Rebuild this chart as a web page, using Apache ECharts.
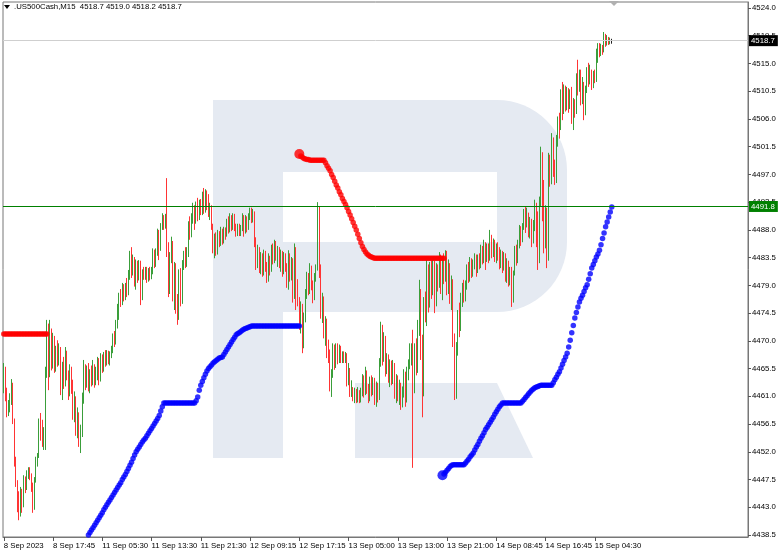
<!DOCTYPE html>
<html><head><meta charset="utf-8">
<script src="https://cdn.jsdelivr.net/npm/echarts@6/dist/echarts.min.js"></script>
<style>html,body{margin:0;padding:0;background:#fff}#c{width:782px;height:554px}</style>
</head><body><div id="c"></div>
<script>
const titleText = '.US500Cash,M15  4518.7 4519.0 4518.2 4518.7';
const xTickLabels = ['8 Sep 2023','8 Sep 17:45','11 Sep 05:30','11 Sep 13:30','11 Sep 21:30','12 Sep 09:15','12 Sep 17:15','13 Sep 05:00','13 Sep 13:00','13 Sep 21:00','14 Sep 08:45','14 Sep 16:45','15 Sep 04:30'];
const barsPerLabel = 32;
const totalSlots = 484;
const yTicks = [4438.5,4443.0,4447.5,4452.0,4456.5,4461.0,4465.5,4470.0,4474.5,4479.0,4483.5,4488.0,4492.5,4497.0,4501.5,4506.0,4510.5,4515.0,4519.5,4524.0];
const lastPrice = 4518.7;
const levelPrice = 4491.8;
// [open, close, low, high]
const candles = [
[4463.0,4465.2,4461.5,4466.4],[4465.2,4461.0,4460.2,4465.8],[4461.0,4458.6,4457.6,4462.4],[4458.6,4459.8,4457.8,4460.4],[4459.8,4460.9,4458.4,4461.5],[4460.9,4462.8,4459.6,4463.8],[4462.8,4457.0,4456.5,4463.2],[4457.0,4450.4,4449.6,4457.4],
[4450.4,4447.2,4446.3,4451.2],[4447.2,4443.0,4442.2,4447.4],[4443.0,4441.8,4440.9,4445.6],[4441.8,4445.6,4441.5,4446.3],[4445.6,4443.2,4442.1,4446.0],[4443.2,4447.5,4443.0,4448.2],[4447.5,4446.0,4445.3,4448.0],[4446.0,4448.6,4445.8,4449.0],
[4448.6,4449.2,4447.6,4449.5],[4449.2,4447.8,4447.4,4449.5],[4447.8,4446.2,4445.5,4448.5],[4446.2,4443.0,4442.1,4447.0],[4443.0,4447.4,4442.6,4447.9],[4447.4,4450.6,4447.0,4451.2],[4450.6,4451.4,4449.6,4451.8],[4451.4,4456.6,4451.0,4457.4],
[4456.6,4455.2,4453.8,4458.3],[4455.2,4453.4,4452.8,4457.2],[4453.4,4454.6,4452.3,4456.0],[4454.6,4465.0,4452.3,4465.8],[4465.0,4472.2,4464.0,4473.4],[4472.2,4464.2,4462.0,4472.8],[4464.2,4471.5,4464.1,4473.4],[4471.5,4466.0,4465.2,4472.0],
[4466.0,4470.2,4465.5,4471.3],[4470.2,4465.6,4464.8,4470.8],[4465.6,4468.4,4465.0,4469.2],[4468.4,4466.6,4465.8,4470.1],[4466.6,4468.8,4466.0,4469.6],[4468.8,4462.4,4461.2,4469.0],[4462.4,4465.8,4460.4,4466.6],[4465.8,4463.0,4462.2,4467.4],
[4463.0,4467.8,4462.6,4469.0],[4467.8,4464.4,4463.6,4468.4],[4464.4,4461.8,4460.4,4465.2],[4461.8,4465.0,4461.0,4466.2],[4465.0,4462.6,4461.4,4465.8],[4462.6,4458.0,4457.2,4463.7],[4458.0,4460.6,4456.8,4461.8],[4460.6,4455.4,4454.6,4461.0],
[4455.4,4457.8,4454.2,4459.2],[4457.8,4453.6,4452.8,4458.4],[4453.6,4455.0,4451.8,4456.4],[4455.0,4460.8,4454.4,4461.6],[4460.8,4465.6,4459.8,4466.9],[4465.6,4463.0,4462.0,4466.2],[4463.0,4465.2,4462.4,4466.0],[4465.2,4462.8,4461.8,4466.4],
[4462.8,4464.6,4461.5,4465.4],[4464.6,4463.4,4462.6,4466.0],[4463.4,4465.8,4462.8,4466.9],[4465.8,4463.6,4462.4,4466.2],[4463.6,4465.0,4462.8,4465.8],[4465.0,4466.8,4463.6,4467.4],[4466.8,4464.0,4462.8,4467.2],[4464.0,4467.2,4463.4,4468.0],
[4467.2,4465.6,4464.8,4467.8],[4465.6,4467.6,4465.0,4468.2],[4467.6,4466.4,4465.8,4468.5],[4466.4,4468.0,4466.0,4468.5],[4468.0,4466.8,4466.2,4468.4],[4466.8,4467.8,4466.0,4468.3],[4467.8,4468.4,4467.2,4469.2],[4468.4,4470.6,4468.0,4471.2],
[4470.6,4469.8,4469.0,4471.6],[4469.8,4472.6,4469.4,4473.4],[4472.6,4474.8,4472.0,4476.0],[4474.8,4477.0,4473.4,4477.8],[4477.0,4476.0,4475.5,4478.4],[4476.0,4478.6,4475.8,4479.4],[4478.6,4477.2,4476.4,4479.2],[4477.2,4478.8,4476.6,4479.4],
[4478.8,4477.8,4477.1,4480.2],[4477.8,4480.6,4477.4,4481.5],[4480.6,4483.8,4479.9,4484.6],[4483.8,4481.4,4480.2,4485.2],[4481.4,4483.0,4480.6,4484.0],[4483.0,4479.6,4478.8,4483.6],[4479.6,4482.4,4478.3,4483.2],[4482.4,4480.2,4479.4,4483.0],
[4480.2,4482.6,4479.8,4483.1],[4482.6,4477.0,4475.8,4483.0],[4477.0,4481.0,4476.6,4481.6],[4481.0,4480.2,4479.9,4482.0],[4480.2,4481.6,4479.9,4482.0],[4481.6,4480.0,4479.4,4482.0],[4480.0,4481.4,4479.6,4481.8],[4481.4,4480.4,4479.8,4482.0],
[4480.4,4481.8,4480.0,4482.0],[4481.8,4484.2,4480.8,4485.0],[4484.2,4482.6,4481.8,4484.8],[4482.6,4484.4,4482.0,4485.0],[4484.4,4487.6,4483.8,4488.2],[4487.6,4485.0,4483.1,4488.0],[4485.0,4488.4,4484.6,4489.1],[4488.4,4489.8,4488.0,4490.7],
[4489.8,4488.8,4488.0,4490.4],[4488.8,4490.0,4488.2,4490.6],[4490.0,4484.6,4483.6,4496.4],[4484.6,4478.0,4477.1,4486.0],[4478.0,4483.4,4477.6,4484.4],[4483.4,4485.6,4482.6,4486.9],[4485.6,4477.6,4476.4,4486.2],[4477.6,4481.8,4475.0,4482.8],
[4481.8,4475.2,4474.4,4482.6],[4475.2,4473.8,4472.6,4477.6],[4473.8,4480.8,4473.4,4481.6],[4480.8,4476.6,4475.6,4481.8],[4476.6,4482.4,4476.0,4483.1],[4482.4,4483.8,4481.5,4484.6],[4483.8,4482.6,4481.8,4485.2],[4482.6,4484.8,4482.0,4485.2],
[4484.8,4488.6,4483.6,4489.4],[4488.6,4487.2,4486.4,4490.2],[4487.2,4489.8,4486.8,4490.7],[4489.8,4491.6,4489.0,4492.4],[4491.6,4489.4,4488.0,4492.0],[4489.4,4491.8,4489.0,4492.6],[4491.8,4490.2,4489.4,4493.2],[4490.2,4492.4,4489.6,4492.9],
[4492.4,4491.0,4490.4,4493.0],[4491.0,4493.6,4490.4,4494.2],[4493.6,4491.4,4490.6,4494.8],[4491.4,4493.8,4490.8,4494.6],[4493.8,4492.0,4491.2,4494.4],[4492.0,4490.6,4490.1,4493.8],[4490.6,4491.8,4489.6,4492.4],[4491.8,4488.8,4488.0,4492.0],
[4488.8,4485.0,4484.2,4489.0],[4485.0,4486.8,4483.4,4487.4],[4486.8,4484.4,4483.8,4487.6],[4484.4,4486.6,4484.0,4488.0],[4486.6,4485.8,4485.2,4487.8],[4485.8,4487.6,4485.4,4488.5],[4487.6,4486.2,4485.6,4488.2],[4486.2,4488.0,4485.8,4488.5],
[4488.0,4487.0,4486.4,4488.4],[4487.0,4489.2,4486.9,4489.8],[4489.2,4488.0,4487.4,4490.2],[4488.0,4489.8,4487.6,4490.7],[4489.8,4488.6,4487.8,4490.4],[4488.6,4490.2,4488.0,4490.7],[4490.2,4488.4,4487.8,4490.6],[4488.4,4487.4,4486.9,4489.0],
[4487.4,4488.6,4487.0,4489.0],[4488.6,4487.6,4487.0,4489.0],[4487.6,4488.4,4487.0,4488.8],[4488.4,4490.0,4487.8,4490.7],[4490.0,4487.8,4486.9,4490.4],[4487.8,4489.6,4487.4,4490.4],[4489.6,4488.2,4487.6,4490.2],[4488.2,4490.4,4488.0,4490.7],
[4490.4,4491.0,4489.6,4491.6],[4491.0,4489.8,4489.1,4491.6],[4489.8,4490.8,4489.2,4491.4],[4490.8,4486.0,4485.2,4491.0],[4486.0,4482.4,4481.5,4486.8],[4482.4,4484.8,4481.8,4485.6],[4484.8,4482.0,4481.0,4485.2],[4482.0,4483.6,4480.8,4484.4],
[4483.6,4481.2,4480.4,4484.2],[4481.2,4483.8,4480.6,4484.8],[4483.8,4482.2,4481.2,4484.6],[4482.2,4480.0,4479.4,4482.8],[4480.0,4483.2,4479.6,4484.2],[4483.2,4481.4,4480.6,4483.8],[4481.4,4484.8,4481.2,4485.6],[4484.8,4483.2,4482.4,4485.8],
[4483.2,4485.6,4482.6,4486.4],[4485.6,4483.8,4483.0,4486.2],[4483.8,4484.8,4482.0,4485.4],[4484.8,4482.4,4481.8,4485.2],[4482.4,4484.0,4481.2,4484.8],[4484.0,4481.4,4480.4,4484.6],[4481.4,4483.6,4480.8,4484.4],[4483.6,4482.0,4481.2,4484.2],
[4482.0,4479.6,4478.6,4482.6],[4479.6,4483.6,4478.3,4484.7],[4483.6,4480.4,4479.6,4484.2],[4480.4,4482.8,4479.8,4483.6],[4482.8,4477.2,4476.2,4483.4],[4477.2,4484.6,4476.8,4485.8],[4484.6,4478.4,4475.0,4485.2],[4478.4,4476.8,4475.6,4480.0],
[4476.8,4472.6,4471.8,4477.1],[4472.6,4475.4,4471.2,4476.4],[4475.4,4469.4,4468.0,4476.0],[4469.4,4473.8,4468.8,4474.6],[4473.8,4477.6,4473.0,4478.4],[4477.6,4480.4,4476.8,4481.2],[4480.4,4478.2,4477.4,4481.0],[4478.2,4481.6,4477.6,4482.6],
[4481.6,4479.0,4478.2,4482.2],[4479.0,4477.2,4476.1,4479.8],[4477.2,4480.2,4476.6,4481.0],[4480.2,4481.8,4479.6,4482.4],[4481.8,4490.6,4481.4,4492.5],[4490.6,4481.0,4480.2,4491.8],[4481.0,4474.6,4473.6,4482.4],[4474.6,4476.8,4472.9,4477.8],
[4476.8,4471.2,4470.4,4477.2],[4471.2,4472.8,4469.2,4474.0],[4472.8,4468.0,4467.2,4473.6],[4468.0,4467.6,4466.4,4470.2],[4467.6,4462.6,4461.8,4468.6],[4462.6,4464.6,4460.9,4465.4],[4464.6,4468.6,4464.0,4469.6],[4468.6,4466.4,4465.3,4469.4],
[4466.4,4468.8,4465.6,4469.6],[4468.8,4467.0,4466.2,4469.6],[4467.0,4468.8,4466.4,4469.4],[4468.8,4467.2,4466.4,4469.2],[4467.2,4468.0,4466.4,4468.3],[4468.0,4466.8,4466.4,4468.3],[4466.8,4467.6,4466.4,4468.2],[4467.6,4463.4,4462.6,4468.0],
[4463.4,4465.2,4462.8,4466.4],[4465.2,4461.8,4460.9,4465.6],[4461.8,4462.6,4460.9,4463.6],[4462.6,4460.8,4460.2,4462.5],[4460.8,4461.8,4459.9,4462.4],[4461.8,4460.6,4459.9,4462.2],[4460.6,4461.6,4460.0,4462.5],[4461.6,4460.4,4459.9,4462.0],
[4460.4,4461.8,4460.0,4462.4],[4461.8,4463.8,4461.0,4464.6],[4463.8,4461.6,4460.8,4464.4],[4461.6,4464.8,4461.2,4465.8],[4464.8,4462.2,4461.4,4465.2],[4462.2,4460.6,4459.9,4463.0],[4460.6,4463.4,4460.2,4464.2],[4463.4,4461.8,4461.0,4464.4],
[4461.8,4463.6,4461.2,4464.1],[4463.6,4460.4,4459.6,4464.0],[4460.4,4462.6,4459.3,4463.4],[4462.6,4460.8,4460.0,4463.2],[4460.8,4466.4,4460.4,4467.2],[4466.4,4472.0,4465.8,4473.1],[4472.0,4467.2,4466.0,4472.6],[4467.2,4470.2,4466.6,4471.4],
[4470.2,4465.4,4464.2,4470.8],[4465.4,4467.4,4464.6,4468.0],[4467.4,4464.0,4463.2,4467.8],[4464.0,4466.2,4462.5,4467.0],[4466.2,4463.6,4462.8,4466.8],[4463.6,4466.0,4463.0,4466.9],[4466.0,4461.4,4460.6,4466.4],[4461.4,4463.8,4459.9,4464.6],
[4463.8,4461.0,4460.2,4464.4],[4461.0,4462.8,4459.6,4463.7],[4462.8,4459.8,4458.8,4463.2],[4459.8,4461.6,4459.2,4462.6],[4461.6,4464.4,4460.8,4465.4],[4464.4,4460.6,4459.3,4465.0],[4460.6,4464.8,4460.0,4465.8],[4464.8,4466.2,4463.6,4467.0],
[4466.2,4468.8,4465.4,4469.6],[4468.8,4469.0,4466.0,4469.6],[4469.0,4463.6,4449.4,4471.8],[4463.6,4468.8,4461.5,4469.6],[4468.8,4465.2,4464.4,4470.4],[4465.2,4471.8,4464.8,4473.4],[4471.8,4477.6,4470.8,4479.9],[4477.6,4470.4,4466.9,4478.4],
[4470.4,4462.0,4457.6,4471.0],[4462.0,4476.4,4461.0,4477.1],[4476.4,4474.2,4473.0,4478.0],[4474.2,4481.4,4472.4,4483.1],[4481.4,4476.0,4474.6,4482.4],[4476.0,4482.0,4475.4,4482.8],[4482.0,4478.2,4476.8,4483.0],[4478.2,4482.6,4477.4,4483.1],
[4482.6,4476.4,4474.5,4483.0],[4476.4,4481.8,4475.6,4482.6],[4481.8,4479.0,4478.0,4482.4],[4479.0,4483.6,4478.6,4484.4],[4483.6,4479.4,4477.6,4484.0],[4479.4,4482.8,4476.6,4483.6],[4482.8,4480.2,4479.2,4484.2],[4480.2,4483.8,4479.6,4484.7],
[4483.8,4478.8,4477.4,4484.6],[4478.8,4482.2,4477.6,4483.2],[4482.2,4477.2,4476.0,4482.6],[4477.2,4479.4,4475.0,4480.6],[4479.4,4470.0,4469.0,4480.0],[4470.0,4461.6,4460.4,4471.2],[4461.6,4468.8,4460.6,4469.8],[4468.8,4474.0,4467.6,4475.0],
[4474.0,4472.4,4470.6,4476.2],[4472.4,4476.8,4471.6,4477.8],[4476.8,4478.6,4475.5,4479.4],[4478.6,4477.0,4476.2,4479.9],[4477.0,4479.2,4476.4,4479.8],[4479.2,4481.6,4478.3,4482.4],[4481.6,4480.2,4479.4,4482.8],[4480.2,4482.8,4479.6,4483.6],
[4482.8,4481.0,4480.2,4483.4],[4481.0,4482.4,4480.4,4483.2],[4482.4,4483.6,4481.6,4484.2],[4483.6,4481.6,4480.4,4484.0],[4481.6,4483.2,4481.0,4484.0],[4483.2,4482.4,4481.6,4484.2],[4482.4,4484.8,4481.8,4485.6],[4484.8,4483.2,4482.4,4485.4],
[4483.2,4485.6,4482.6,4486.4],[4485.6,4483.4,4481.5,4486.0],[4483.4,4485.0,4482.8,4485.8],[4485.0,4483.6,4482.6,4485.8],[4483.6,4486.6,4483.0,4488.0],[4486.6,4484.2,4483.4,4487.2],[4484.2,4485.8,4483.6,4486.6],[4485.8,4483.4,4482.8,4486.4],
[4483.4,4485.2,4482.6,4485.8],[4485.2,4483.8,4483.0,4486.0],[4483.8,4482.4,4481.6,4485.2],[4482.4,4484.2,4481.8,4484.8],[4484.2,4482.0,4481.0,4484.6],[4482.0,4483.6,4481.4,4484.4],[4483.6,4480.4,4479.6,4484.2],[4480.4,4482.6,4479.4,4483.4],
[4482.6,4479.6,4478.8,4483.0],[4479.6,4481.2,4479.0,4482.0],[4481.2,4477.2,4475.5,4482.0],[4477.2,4480.8,4476.2,4481.4],[4480.8,4484.6,4480.6,4485.4],[4484.6,4483.0,4482.2,4485.6],[4483.0,4485.8,4482.6,4486.4],[4485.8,4488.0,4485.0,4488.8],
[4488.0,4486.4,4485.4,4488.6],[4486.4,4488.8,4486.0,4489.1],[4488.8,4490.6,4488.0,4491.4],[4490.6,4489.0,4487.5,4491.7],[4489.0,4490.8,4488.4,4491.6],[4490.8,4487.6,4486.8,4490.8],[4487.6,4489.4,4486.6,4490.1],[4489.4,4486.2,4485.2,4489.8],
[4486.2,4488.4,4485.8,4489.6],[4488.4,4491.8,4487.8,4492.9],[4491.8,4487.0,4485.2,4492.4],[4487.0,4483.0,4481.5,4491.0],[4483.0,4492.6,4482.6,4493.4],[4492.6,4499.8,4491.8,4501.5],[4499.8,4494.2,4489.4,4500.6],[4494.2,4486.0,4484.2,4496.1],
[4486.0,4490.6,4485.0,4492.0],[4490.6,4484.0,4481.8,4491.6],[4484.0,4498.8,4483.0,4500.5],[4498.8,4496.2,4495.0,4500.2],[4496.2,4501.8,4495.4,4503.7],[4501.8,4497.6,4496.6,4503.0],[4497.6,4495.8,4495.3,4499.4],[4495.8,4502.4,4495.6,4503.4],
[4502.4,4505.6,4501.5,4506.4],[4505.6,4504.4,4502.8,4507.0],[4504.4,4509.8,4504.2,4510.8],[4509.8,4507.4,4505.8,4512.0],[4507.4,4510.6,4506.8,4511.6],[4510.6,4508.0,4507.2,4511.4],[4508.0,4510.4,4507.4,4511.2],[4510.4,4508.2,4507.0,4511.0],
[4508.2,4510.0,4507.6,4510.8],[4510.0,4506.0,4505.2,4511.2],[4506.0,4508.6,4504.2,4509.4],[4508.6,4507.0,4506.2,4509.2],[4507.0,4512.4,4506.8,4513.4],[4512.4,4511.0,4509.8,4515.6],[4511.0,4513.2,4510.4,4514.0],[4513.2,4509.0,4508.2,4514.0],
[4509.0,4511.6,4508.4,4512.8],[4511.6,4507.2,4505.8,4512.0],[4507.2,4510.6,4506.6,4511.4],[4510.6,4513.6,4510.2,4514.4],[4513.6,4512.2,4511.2,4515.1],[4512.2,4514.0,4511.6,4514.8],[4514.0,4511.6,4510.7,4514.0],[4511.6,4513.2,4511.0,4513.8],
[4513.2,4512.4,4511.8,4514.0],[4512.4,4516.6,4512.0,4517.4],[4516.6,4517.8,4515.1,4518.3],[4517.8,4516.6,4516.0,4518.3],[4516.6,4517.6,4516.2,4518.2],[4517.6,4517.0,4516.4,4518.0],[4517.0,4519.4,4516.8,4520.1],[4519.4,4518.2,4517.7,4519.8],
[4518.2,4519.0,4517.9,4519.6],[4519.0,4518.4,4518.0,4519.3],[4518.4,4518.7,4518.1,4519.2],[4518.7,4518.7,4518.2,4519.0]
];
// trailing-stop indicator values (start index + per-bar values)
const redAStart = 0;
const redA = [4471.1,4471.1,4471.1,4471.1,4471.1,4471.1,4471.1,4471.1,4471.1,4471.1,4471.1,4471.1,4471.1,4471.1,4471.1,4471.1,4471.1,4471.1,4471.1,4471.1,4471.1,4471.1,4471.1,4471.1,4471.1,4471.1,4471.1,4471.1,4471.1];
const redBStart = 192;
const redB = [4500.3,4500.0,4499.8,4499.6,4499.5,4499.4,4499.4,
4499.3,4499.3,4499.3,4499.3,4499.3,4499.3,4499.3,4499.3,4499.3,4499.3,
4498.9,4498.4,4498.0,4497.6,4497.0,4496.5,4495.9,4495.3,4494.8,4494.2,4493.7,4493.1,4492.6,4492.1,4491.6,4491.0,
4490.4,4489.8,4489.2,4488.6,4488.0,4487.3,4486.6,4485.9,4485.3,4484.8,4484.4,4484.1,4483.9,4483.7,4483.6,4483.5,
4483.4,4483.4,4483.4,4483.4,4483.4,4483.4,4483.4,4483.4,4483.4,4483.4,4483.4,4483.4,4483.4,4483.4,4483.4,4483.4,
4483.4,4483.4,4483.4,4483.4,4483.4,4483.4,4483.4,4483.4,4483.4,4483.4,4483.4,4483.4,4483.4,4483.4,4483.4,4483.4,
4483.4,4483.4,4483.4,4483.4,4483.4,4483.4,4483.4,4483.4,4483.4,4483.4,4483.4,4483.4,4483.4,4483.4];
const blueAStart = 55;
const blueA = [4438.5,4438.9,4439.3,4439.7,4440.1,4440.5,4440.9,4441.3,4441.7,4442.1,
4442.6,4443.0,4443.4,4443.8,4444.2,4444.6,4445.0,4445.4,4445.8,4446.2,
4446.6,4447.0,4447.5,4447.9,4448.3,4448.8,4449.3,4449.8,4450.3,4450.9,
4451.5,4452.0,4452.4,4452.8,4453.2,4453.6,4453.9,4454.2,4454.6,4455.0,
4455.4,4455.8,4456.2,4456.6,4457.0,4457.4,4457.9,4458.6,4459.3,
4459.9,4459.9,4459.9,4459.9,4459.9,4459.9,4459.9,4459.9,4459.9,4459.9,4459.9,4459.9,4459.9,4459.9,4459.9,4459.9,4459.9,4459.9,4459.9,4459.9,4459.9,
4460.3,4460.9,4462.0,4462.8,4463.4,4464.0,4464.6,4465.1,4465.5,4465.8,
4466.1,4466.4,4466.6,4466.8,4467.0,4467.2,4467.3,4467.4,4467.8,4468.2,
4468.6,4469.0,4469.4,4469.8,4470.2,4470.6,4471.0,4471.2,4471.3,4471.5,
4471.7,4471.9,4472.0,4472.1,4472.2,4472.3,
4472.4,4472.4,4472.4,4472.4,4472.4,4472.4,4472.4,4472.4,4472.4,4472.4,4472.4,4472.4,4472.4,4472.4,4472.4,4472.4,
4472.4,4472.4,4472.4,4472.4,4472.4,4472.4,4472.4,4472.4,4472.4,4472.4,4472.4,4472.4,4472.4,4472.4,4472.4,4472.4];
const blueBStart = 285;
const blueB = [4448.2,4448.4,4448.7,4449.0,4449.3,4449.6,4449.8,
4449.9,4449.9,4449.9,4449.9,4449.9,4449.9,4449.9,4449.9,
4450.2,4450.5,4450.8,4451.2,4451.5,4451.8,4452.3,4452.8,4453.2,4453.7,4454.2,4454.6,4455.1,4455.6,4456.0,4456.4,4456.8,4457.2,4457.6,4458.1,4458.5,4458.9,4459.3,4459.6,
4459.9,4459.9,4459.9,4459.9,4459.9,4459.9,4459.9,4459.9,4459.9,4459.9,4459.9,4459.9,4459.9,
4460.2,4460.5,4460.8,4461.1,4461.4,4461.7,4462.0,4462.2,4462.4,4462.5,4462.6,4462.7,
4462.8,4462.8,4462.8,4462.8,4462.8,4462.8,4462.8,4462.8,
4463.2,4463.7,4464.1,4464.6,4465.0,4465.6,4466.2,4466.8,4467.4,4468.0,4469.0,4470.1,4471.3,4472.5,4473.7,4474.6,4475.5,4476.3,4476.9,4477.4,
4478.0,4478.6,4479.1,4480.0,4480.9,4481.8,4482.4,4483.0,4483.6,4484.1,4484.7,4485.6,4486.6,4487.5,4488.5,4489.3,4490.1,4490.9,4491.7];

const FONT = 'Liberation Sans';
const categories = Array.from({length: totalSlots}, (_, i) => String(i));
const toPairs = (start, arr) => arr.map((v, i) => [start + i, v]);
const isLabelIdx = i => i % barsPerLabel === 0 && (i / barsPerLabel) < xTickLabels.length;
const WM = '#e5eaf2';

const chart = echarts.init(document.getElementById('c'), null, {renderer: 'canvas'});
const dotSeries = (name, color, start, arr, bigFirst) => ({
  name, type: 'scatter', data: toPairs(start, arr), z: 4,
  symbol: 'circle',
  symbolSize: (v, p) => (bigFirst && p.dataIndex === 0) ? 10 : 5.5,
  itemStyle: {color}, silent: true, animation: false
});
chart.setOption({
  animation: false,
  backgroundColor: '#fff',
  grid: {left: 3, right: 34, top: 2, bottom: 17, show: true, borderColor: '#777', borderWidth: 1},
  xAxis: {
    type: 'category', data: categories, boundaryGap: true,
    axisLine: {show: true, lineStyle: {color: '#777'}},
    axisTick: {show: true, alignWithLabel: true, interval: (i) => isLabelIdx(i), length: 4, lineStyle: {color: '#555'}},
    axisLabel: {interval: (i) => isLabelIdx(i), formatter: (v, i) => isLabelIdx(i) ? xTickLabels[i / barsPerLabel] : '',
      align: 'left', margin: 5, fontSize: 7.8, color: '#000', fontFamily: FONT},
    splitLine: {show: false}
  },
  yAxis: {
    type: 'value', position: 'right', min: 4438.18, max: 4524.97, scale: true,
    axisLine: {show: true, lineStyle: {color: '#777'}},
    axisTick: {show: true, customValues: yTicks, length: 3, lineStyle: {color: '#555'}},
    axisLabel: {customValues: yTicks, formatter: v => v.toFixed(1), margin: 4, fontSize: 7.8, color: '#000', fontFamily: FONT},
    splitLine: {show: false}
  },
  graphic: [
    {type: 'group', z: -10, silent: true, children: [
      {type: 'rect', shape: {x: 213, y: 100, width: 354, height: 212, r: [0, 70, 70, 0]}, style: {fill: WM}},
      {type: 'rect', shape: {x: 213, y: 100, width: 70, height: 358}, style: {fill: WM}},
      {type: 'rect', shape: {x: 283, y: 172, width: 214, height: 70}, style: {fill: '#fff'}},
      {type: 'polygon', shape: {points: [[355, 383], [497, 383], [533, 458], [355, 458]]}, style: {fill: WM}}
    ]},
    {type: 'polygon', z: 100, shape: {points: [[4, 5], [10, 5], [7, 9]]}, style: {fill: '#000'}},
    {type: 'text', z: 100, left: 14, top: 3, style: {text: titleText, font: '7.8px "Liberation Sans"', fill: '#000'}},
    {type: 'polygon', z: 100, shape: {points: [[609, 1], [619, 1], [614, 6]]}, style: {fill: '#b0b0b0'}}
  ],
  series: [
    {
      type: 'candlestick', data: candles.map(c => [c[0], c[1], c[2], c[3]]), barWidth: 1.2, z: 3,
      itemStyle: {color: '#8fd08f', color0: '#ff9c9c', borderColor: '#3a9e3a', borderColor0: '#ff3434', borderColorDoji: '#222', borderWidth: 1},
      markLine: {
        symbol: 'none', silent: true, animation: false,
        data: [
          {yAxis: levelPrice, lineStyle: {color: '#008000', width: 1, type: 'solid'},
            label: {show: true, position: 'end', distance: 1, formatter: levelPrice.toFixed(1), color: '#fff', backgroundColor: '#008000', padding: [2, 3, 1, 2], fontSize: 7.8, fontFamily: FONT}},
          {yAxis: lastPrice, lineStyle: {color: '#cfcfcf', width: 1, type: 'solid'},
            label: {show: true, position: 'end', distance: 1, formatter: lastPrice.toFixed(1), color: '#fff', backgroundColor: '#000', padding: [2, 3, 1, 2], fontSize: 7.8, fontFamily: FONT}}
        ]
      }
    },
    dotSeries('redA', '#ff0000', redAStart, redA, false),
    dotSeries('redB', '#ff0000', redBStart, redB, true),
    dotSeries('blueA', '#0000ff', blueAStart, blueA, false),
    dotSeries('blueB', '#0000ff', blueBStart, blueB, true)
  ]
});
</script>
</body></html>
